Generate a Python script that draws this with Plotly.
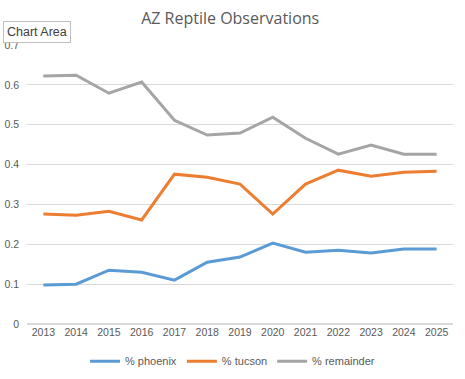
import plotly.graph_objects as go

years = ["2013", "2014", "2015", "2016", "2017", "2018", "2019", "2020", "2021", "2022", "2023", "2024", "2025"]
phoenix = [0.098, 0.100, 0.135, 0.130, 0.110, 0.155, 0.168, 0.203, 0.180, 0.185, 0.178, 0.188, 0.188]
tucson = [0.276, 0.273, 0.283, 0.261, 0.376, 0.368, 0.351, 0.276, 0.351, 0.386, 0.371, 0.381, 0.383]
remainder = [0.622, 0.624, 0.579, 0.607, 0.511, 0.474, 0.479, 0.519, 0.466, 0.426, 0.449, 0.426, 0.426]
y_ticks = [0, 0.1, 0.2, 0.3, 0.4, 0.5, 0.6, 0.7]
y_labels = ["0", "0.1", "0.2", "0.3", "0.4", "0.5", "0.6", "0.7"]

fig = go.Figure()
for name, vals, col in [("% phoenix", phoenix, "#5B9BD5"),
                        ("% tucson", tucson, "#ED7D31"),
                        ("% remainder", remainder, "#A5A5A5")]:
    fig.add_trace(go.Scatter(x=years, y=vals, mode="lines", name=name,
                             line=dict(color=col, width=3)))

fig.update_layout(
    width=465, height=379,
    margin=dict(l=27, r=12, t=45, b=55),
    paper_bgcolor="white", plot_bgcolor="white",
    font=dict(family="Liberation Sans, Arial, sans-serif", color="#595959", size=10),
    title=dict(text="AZ Reptile Observations", x=0.495, xanchor="center", y=0.952, yanchor="middle",
               font=dict(size=16, color="#595959", family="Open Sans, Liberation Sans, sans-serif")),
    showlegend=True,
    legend=dict(orientation="h", x=0.5, xanchor="center", xref="container",
                y=0.047, yanchor="middle", yref="container",
                font=dict(size=11, color="#595959"), itemwidth=30, tracegroupgap=0),
    xaxis=dict(type="category", range=[-0.5, 12.5], showgrid=False, showline=False,
               ticks="", tickfont=dict(size=10.5, color="#595959"), automargin=False),
    yaxis=dict(range=[0, 0.7], tickvals=y_ticks, ticktext=y_labels, showgrid=True,
               gridcolor="#D9D9D9", gridwidth=1, zeroline=True, zerolinecolor="#D9D9D9",
               showline=False, ticks="", tickfont=dict(size=10.5, color="#595959"),
               ticklabelstandoff=7, automargin=False),
)

fig.add_annotation(text="Chart Area", xref="paper", yref="paper", x=-0.056, y=1.008,
                   xanchor="left", yanchor="bottom", showarrow=False,
                   font=dict(size=12.5, color="#404040"), bgcolor="white",
                   bordercolor="#BFBFBF", borderwidth=1, borderpad=3)

fig.write_html("out.html", config={"displayModeBar": False},
               post_script="document.body.style.margin='0';")
